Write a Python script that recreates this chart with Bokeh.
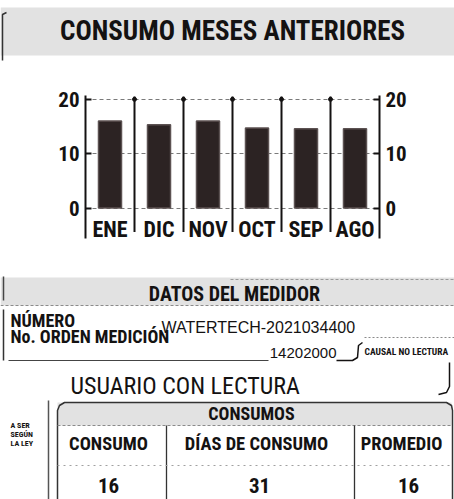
from bokeh.plotting import figure
from bokeh.models import Range1d, LinearAxis, FixedTicker
from bokeh.embed import file_html
from bokeh.resources import INLINE
from bokeh.core.properties import value

# ---------------- data ----------------
months = ["ENE", "DIC", "NOV", "OCT", "SEP", "AGO"]
consumo = [16, 15.3, 16, 14.7, 14.6, 14.6]
y_ticks = [0, 10, 20]

title_text = "CONSUMO MESES ANTERIORES"
section_text = "DATOS DEL MEDIDOR"
numero_label = "NÚMERO"
orden_label = "No. ORDEN MEDICIÓN"
medidor = "WATERTECH-2021034400"
orden = "14202000"
causal = "CAUSAL NO LECTURA"
usuario = "USUARIO CON LECTURA"
tabla_titulo = "CONSUMOS"
tabla_headers = ["CONSUMO", "DÍAS DE CONSUMO", "PROMEDIO"]
tabla_values = ["16", "31", "16"]
nota = ["A SER", "SEGÚN", "LA LEY"]

NARROW = "Roboto Condensed, DejaVu Sans Condensed, Liberation Sans Narrow, Roboto"
SANS = "Liberation Sans"
INK = "#141212"
BAND = "#e2e2e2"
W = 454


def blank(height, y0, y1):
    f = figure(width=W, height=height, x_range=Range1d(0, W), y_range=Range1d(y1, y0),
               output_backend="svg", toolbar_location=None, min_border=0,
               x_axis_location=None, y_axis_location=None)
    f.grid.visible = False
    f.outline_line_color = None
    f.background_fill_color = "white"
    return f


# ---------------- title ----------------
t = blank(70, 0, 70)
t.quad(left=[0], right=[454], top=[7], bottom=[55], fill_color=BAND, line_color=None)
t.line(x=[6, 2, 2], y=[12, 14, 60], line_color="#333", line_width=1.5)
t.text(x=[232], y=[30], text=[title_text], text_font=value(NARROW), text_font_style="bold",
       text_font_size="27px", text_align="center", text_baseline="middle", text_color=INK)

# ---------------- bar chart ----------------
p = figure(width=W, height=200, x_range=Range1d(0, len(months)), y_range=Range1d(-5.6, 20.7),
           output_backend="svg", toolbar_location=None, x_axis_location=None,
           y_axis_location="left", min_border_left=85, min_border_right=75,
           min_border_top=25, min_border_bottom=32)
p.outline_line_color = None
p.xgrid.visible = False
p.ygrid.ticker = FixedTicker(ticks=y_ticks)
p.ygrid.grid_line_color = "#7a7a7a"
p.ygrid.grid_line_dash = "4 3"
p.ygrid.grid_line_width = 1.2

xs = [i + 0.5 for i in range(len(months))]
p.vbar(x=xs, top=consumo, bottom=0, width=0.47, fill_color="#2c2323",
       line_color="#5c5252", line_width=1.5)

seps = list(range(1, len(months)))
p.segment(x0=seps, y0=[-4.4] * len(seps), x1=seps, y1=[20.5] * len(seps),
          line_color=INK, line_width=2)
p.scatter(x=seps, y=[20] * len(seps), size=4, color=INK)

p.text(x=xs, y=[-3.9] * len(months), text=months, text_font=value(NARROW),
       text_font_style="bold", text_font_size="22px", text_align="center",
       text_baseline="middle", text_color=INK)

right = LinearAxis()
p.add_layout(right, "right")
for ax in p.yaxis:
    ax.ticker = FixedTicker(ticks=y_ticks)
    ax.axis_line_width = 2
    ax.axis_line_color = INK
    ax.major_tick_in = 6
    ax.major_tick_out = 0
    ax.major_tick_line_width = 2
    ax.major_tick_line_color = INK
    ax.minor_tick_line_color = None
    ax.major_label_text_font = NARROW
    ax.major_label_text_font_style = "bold"
    ax.major_label_text_font_size = "21px"
    ax.major_label_text_color = INK
    ax.major_label_standoff = 6

# ---------------- lower block ----------------
b = blank(229, 270, 499)
b.quad(left=[0], right=[454], top=[277], bottom=[305], fill_color=BAND, line_color=None)
b.line(x=[0, 454], y=[305, 305], line_color="#8a8a8a", line_dash="3 2", line_width=1)
b.line(x=[230, 454], y=[279, 279], line_color="#9a9a9a", line_dash="3 2", line_width=1)
b.line(x=[3, 3], y=[276, 300], line_color="#444", line_width=1.5)
b.line(x=[3, 3], y=[309, 360], line_color="#333", line_width=1.5)
b.text(x=[234], y=[293], text=[section_text], text_font=value(NARROW), text_font_style="bold",
       text_font_size="20px", text_align="center", text_baseline="middle", text_color=INK)

b.text(x=[10, 10], y=[320, 336], text=[numero_label, orden_label], text_font=value(NARROW),
       text_font_style="bold", text_font_size="18px", text_align="left",
       text_baseline="middle", text_color=INK)
b.text(x=[161], y=[327], text=[medidor], text_font=value(SANS), text_font_size="16px",
       text_align="left", text_baseline="middle", text_color=INK)
b.line(x=[364, 454], y=[337, 337], line_color="#8a8a8a", line_dash="2 2", line_width=1)
b.text(x=[336], y=[352], text=[orden], text_font=value(SANS), text_font_size="15px",
       text_align="right", text_baseline="middle", text_color=INK)
b.line(x=[8, 268], y=[360, 360], line_color="#444", line_width=1.2)
b.line(x=[336, 352, 357, 358, 362], y=[360, 360, 357, 345, 342], line_color=INK, line_width=1.5)
b.text(x=[364], y=[351], text=[causal], text_font=value(NARROW), text_font_style="bold",
       text_font_size="9.5px", text_align="left", text_baseline="middle", text_color=INK)

b.text(x=[70], y=[385], text=[usuario], text_font=value(NARROW), text_font_size="24px",
       text_align="left", text_baseline="middle", text_color=INK)
b.line(x=[449, 449, 446, 438], y=[362, 386, 392, 394], line_color=INK, line_width=1.5)

# table
b.quad(left=[57], right=[451], top=[402], bottom=[425], fill_color=BAND, line_color=None)
b.line(x=[57, 57, 59, 64, 446, 451, 452, 452], y=[499, 410, 405, 402, 402, 405, 410, 499],
       line_color="#333", line_width=1.5)
b.line(x=[57, 452], y=[425, 425], line_color="#8a8a8a", line_dash="3 2", line_width=1)
b.line(x=[48, 48], y=[400, 499], line_color="#555", line_width=1.5)
b.text(x=[251], y=[413], text=[tabla_titulo], text_font=value(NARROW), text_font_style="bold",
       text_font_size="18px", text_align="center", text_baseline="middle", text_color=INK)
b.segment(x0=[166, 354], y0=[425, 425], x1=[166, 354], y1=[499, 499], line_color="#333",
          line_width=1.3)
col_x = [108, 256, 401]
b.text(x=col_x, y=[443] * 3, text=tabla_headers, text_font=value(NARROW),
       text_font_style="bold", text_font_size="18.5px", text_align="center",
       text_baseline="middle", text_color=INK)
b.line(x=[57, 452], y=[465, 465], line_color="#a0a0a0", line_dash="2 4", line_width=1)
b.text(x=[108, 259, 408], y=[485] * 3, text=tabla_values, text_font=value(NARROW),
       text_font_style="bold", text_font_size="21px", text_align="center",
       text_baseline="middle", text_color=INK)
b.text(x=[10] * 3, y=[425, 434, 443], text=nota, text_font=value(NARROW),
       text_font_style="bold", text_font_size="8px", text_align="left",
       text_baseline="middle", text_color=INK)

open("out.html", "w").write(file_html([t, p, b], INLINE))
